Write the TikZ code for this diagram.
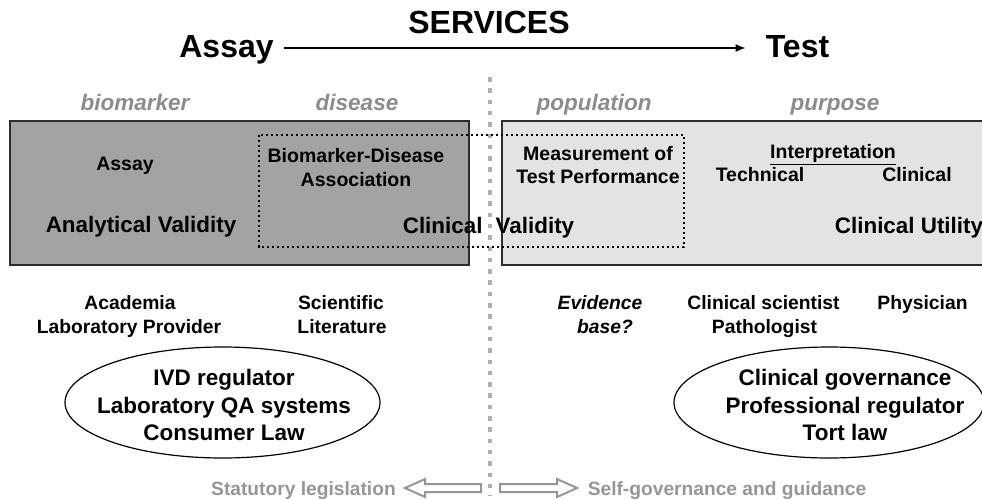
\documentclass[tikz,border=0pt]{standalone}
\usepackage{fontspec}
\setmainfont{Liberation Sans}
\usetikzlibrary{arrows.meta,shapes.geometric}

\definecolor{darkfill}{RGB}{163,163,163}
\definecolor{lightfill}{RGB}{227,227,227}
\definecolor{edgegray}{RGB}{45,45,45}
\definecolor{hdrgray}{RGB}{140,140,140}
\definecolor{footgray}{RGB}{150,150,150}
\definecolor{divgray}{RGB}{175,175,175}

\begin{document}
\begin{tikzpicture}[x=1pt,y=-1pt,
  fs/.style={inner sep=0pt, anchor=base, font=\fontsize{#1pt}{#1pt}\selectfont\bfseries},
  hdr/.style={fs=22.5, text=hdrgray, font=\fontsize{22.5pt}{22.5pt}\selectfont\bfseries\itshape},
  foot/.style={fs=19.2, text=footgray},
  band/.style={draw=edgegray, line width=1.5pt},
  oval/.style={draw, ellipse, line width=1.2pt, minimum height=111pt, inner sep=0pt},
  hollow/.style={draw=footgray, line width=2pt, line join=miter}]

\useasboundingbox (0,0) rectangle (982,499);

% title line
\node[fs=32] (services) at (489,33) {SERVICES};
\node[fs=32, text height=23pt, text depth=7pt] (assayTop) at (226.5,57.5) {Assay};
\node[fs=32, text height=23pt, text depth=7pt] (test) at (797.5,57.5) {Test};
\draw[line width=1.3pt, -{Latex[length=10pt,width=8pt]}]
  ([xshift=10pt,yshift=1.5pt]assayTop.east) -- ([xshift=-20pt,yshift=1.5pt]test.west);

% column headings
\node[hdr] (hBio) at (135,110) {biomarker};
\node[hdr] (hDis) at (357,110) {disease};
\node[hdr] (hPop) at (594,110) {population};
\node[hdr] (hPur) at (835,110) {purpose};

% shaded bands
\draw[band, fill=darkfill] (10,121) rectangle (469,265);
\draw[band, fill=lightfill] (502,121) rectangle (995,265);

% divider
\draw[divgray, line width=4.5pt, dash pattern=on 4.5pt off 6.8pt] (490,77) -- (490,496);

% clinical validity frame
\draw[line width=2.2pt, dash pattern=on 2.2pt off 2.8pt] (259,135) rectangle (684,247);

% band texts
\node[fs=19.5] (bAssay) at (125,170) {Assay};
\node[fs=19.5] (bd1) at (356,162.7) {Biomarker-Disease};
\node[fs=19.5] (bd2) at (356,186) {Association};
\node[fs=22.4] (av) at (141,232.5) {Analytical Validity};
\node[fs=22.4] (cv) at (488.5,233) {Clinical\hspace{7pt} Validity};
\node[fs=19.5] (mtp1) at (598,160.7) {Measurement of};
\node[fs=19.5] (mtp2) at (598,183.3) {Test Performance};
\node[fs=19.5] (interp) at (833,158.3) {\underline{Interpretation}};
\node[fs=19.5] (tech) at (760,181.7) {Technical};
\node[fs=19.5] (clin) at (917,181.7) {Clinical};
\node[fs=22.4] (cu) at (909,233.3) {Clinical Utility};

% actors
\node[fs=19.3] (acad) at (130,309.5) {Academia};
\node[fs=19.3] (labp) at (129,333) {Laboratory Provider};
\node[fs=19.3] (sci) at (341,309.5) {Scientific};
\node[fs=19.3] (lit) at (342,333) {Literature};
\node[fs=19.3, font=\fontsize{19.3pt}{19.3pt}\selectfont\bfseries\itshape] (ev1) at (600,309.5) {Evidence};
\node[fs=19.3, font=\fontsize{19.3pt}{19.3pt}\selectfont\bfseries\itshape] (ev2) at (605,333) {base?};
\node[fs=19.3] (cs) at (763.5,309.5) {Clinical scientist};
\node[fs=19.3] (path) at (764.5,333) {Pathologist};
\node[fs=19.3] (phys) at (922.5,309.5) {Physician};

% oversight ellipses
\node[oval, minimum width=315pt] (ellL) at (222.5,402.5) {};
\node[oval, minimum width=310pt] (ellR) at (829,402.5) {};
\node[fs=22.5] (l1) at (224,385.5) {IVD regulator};
\node[fs=22.5] (l2) at (224,413) {Laboratory QA systems};
\node[fs=22.5] (l3) at (224,440.5) {Consumer Law};
\node[fs=22.5] (r1) at (845,385.5) {Clinical governance};
\node[fs=22.5] (r2) at (845,413) {Professional regulator};
\node[fs=22.5] (r3) at (845,440.5) {Tort law};

% governance direction
\node[foot] (stat) at (303.5,495) {Statutory legislation};
\node[foot] (self) at (727,495) {Self-governance and guidance};
\draw[hollow] (405,488) -- (425,479) -- (425,484) -- (481,484) -- (481,492) -- (425,492) -- (425,497) -- cycle;
\draw[hollow] (577,488) -- (557,479) -- (557,484) -- (500,484) -- (500,492) -- (557,492) -- (557,497) -- cycle;

\end{tikzpicture}
\end{document}
